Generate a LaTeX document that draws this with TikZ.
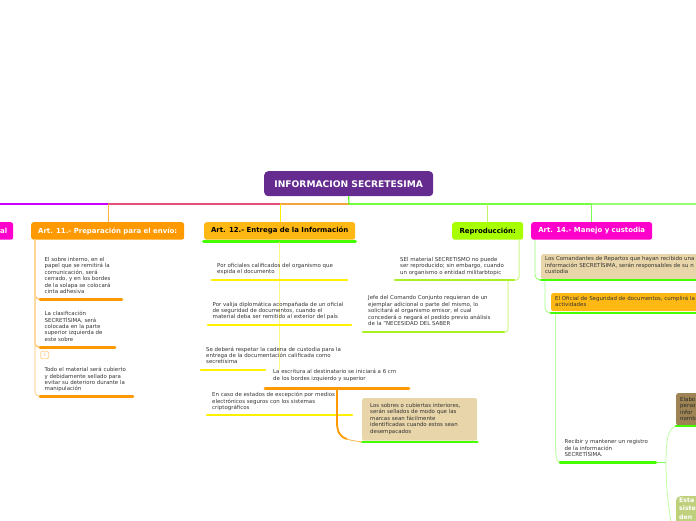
\documentclass[tikz,border=0pt]{standalone}
\usepackage{fontspec}
\setmainfont{DejaVu Sans}
\definecolor{rootc}{HTML}{652B8F}
\definecolor{orangec}{HTML}{FF9900}
\definecolor{ambar}{HTML}{FDB813}
\definecolor{lime}{HTML}{A8FF00}
\definecolor{magen}{HTML}{FF00CC}
\definecolor{sand}{HTML}{E8D5A9}
\definecolor{brownc}{HTML}{9E8454}
\definecolor{oliv}{HTML}{BFD07C}
\definecolor{gr}{HTML}{44FF00}
\definecolor{yel}{HTML}{FFF000}
\definecolor{limeline}{HTML}{AAF022}
\definecolor{ink}{HTML}{333333}
\definecolor{trunka}{HTML}{CC00FF}
\definecolor{trunkb}{HTML}{E2507A}
\definecolor{trunkc}{HTML}{F2A53C}
\tikzset{
  x=1pt,y=-1pt,
  head/.style={rounded corners=2.5pt,font=\fontsize{6.95}{8}\selectfont\bfseries,inner sep=0pt,anchor=north west},
  txt/.style={anchor=north west,align=left,inner sep=0pt,text=ink,font=\fontsize{5.45}{6.45}\selectfont},
  ul/.style={line width=2.8pt,line cap=round},
  stem/.style={line width=1.1pt,rounded corners=5pt},
  cb/.style={rounded corners=2pt,anchor=north west,inner sep=0pt},
}
\begin{document}
\begin{tikzpicture}
\useasboundingbox (0,0) rectangle (696,520);
\clip (0,0) rectangle (696,520);
% trunk coordinates
\coordinate (t0) at (0,204); \coordinate (t1) at (108,204); \coordinate (t2) at (280,204);
\coordinate (t3) at (349,204); \coordinate (t4) at (487,204); \coordinate (t5) at (591,204); \coordinate (t6) at (696,204);
\draw[line width=1.4pt,color=trunka] (t0)--(t1);
\draw[line width=1.4pt,color=trunkb] (t1)--(t2);
\draw[line width=1.4pt,color=trunkc] (t2)--(t3);
\draw[line width=1.4pt,color=gr!75!white] (t3)--(t5);
\draw[line width=1.2pt,color=gr!55!white] (t5)--(t6);
% root
\node[rounded corners=4pt,fill=rootc,text=white,font=\fontsize{9.15}{10}\selectfont\bfseries,minimum width=169pt,minimum height=25pt,inner sep=0pt,anchor=north west] (root) at (264,171) {INFORMACION SECRETESIMA};
\draw[line width=1.1pt,color=gr] (root.south) -- (t3);
% headers
\node[head,fill=magen,text=white,minimum width=30pt,minimum height=17.5pt,align=right,text width=18pt] (h0) at (-17,222) {al};
\node[head,fill=orangec,text=white,minimum width=153pt,minimum height=17.5pt,align=center] (h1) at (31,222) {Art. 11.- Preparación para el envío:};
\node[head,fill=ambar,text=black,minimum width=151pt,minimum height=17.5pt,align=center] (h2) at (204,222) {Art. 12.- Entrega de la Información};
\node[head,fill=lime,text=black,minimum width=71pt,minimum height=17.5pt,align=center] (h3) at (452,222) {Reproducción:};
\node[head,fill=magen,text=white,minimum width=121pt,minimum height=17.5pt,align=center] (h4) at (531,222) {Art. 14.- Manejo y custodia};
\draw[line width=.8pt,color=orangec!75!white] (t1) -- (h1.north -| t1);
\draw[line width=.8pt,color=yel] (t2) -- (h2.north -| t2);
\draw[line width=.9pt,color=limeline!70!white] (t4) -- (h3.north -| t4);
\draw[line width=.9pt,color=gr!70!white] (t5) -- (h4.north -| t5);
% Art 11
\coordinate (a1) at (40,299.5); \coordinate (a1e) at (122,299.5);
\coordinate (a2) at (40,347.5); \coordinate (a2e) at (115,347.5);
\coordinate (a3) at (40,396.5); \coordinate (a3e) at (133,396.5);
\coordinate (s1) at (35,239.5);
\draw[stem,color=orangec!60!white] (s1) |- (a1);
\draw[stem,color=orangec!60!white] (s1) |- (a2);
\draw[stem,color=orangec!35!white] (s1) |- (a3);
\draw[ul,color=orangec] (a1)--(a1e); \draw[ul,color=orangec] (a2)--(a2e); \draw[ul,color=orangec] (a3)--(a3e);
\node[txt] (t11a) at (44.5,257) {El sobre interno, en el\\papel que se remitirá la\\comunicación, será\\cerrado, y en los bordes\\de la solapa se colocará\\cinta adhesiva};
\node[txt] (t11b) at (44.5,311) {La clasificación\\SECRETÍSIMA, será\\colocada en la parte\\superior izquierda de\\este sobre};
\node[txt] (t11c) at (44.5,367) {Todo el material será cubierto\\y debidamente sellado para\\evitar su deterioro durante la\\manipulación};
\node[draw=orangec!45!white,line width=.8pt,rounded corners=2pt,minimum width=8pt,minimum height=7.5pt,inner sep=0pt,text=orangec!60!white,font=\fontsize{4.5}{5}\selectfont] (note) at (44.7,355) {1};
% Art 12
\draw[ul,color=gr,line width=3pt] (203.5,241) coordinate (b0) -- (355.5,241) coordinate (b0e);
\coordinate (b1) at (212,280); \coordinate (b1e) at (347,280);
\coordinate (b2) at (208,325); \coordinate (b2e) at (351,325);
\coordinate (b3) at (201,370); \coordinate (b3e) at (265,370);
\coordinate (b4) at (265,388.5); \coordinate (b4e) at (409,388.5);
\coordinate (b5) at (207,415); \coordinate (b5e) at (352,415);
\draw[line width=.8pt,color=yel!50!white] (279.5,242) -- (279.5,370);
\draw[ul,color=yel] (b1)--(b1e); \draw[ul,color=yel] (b2)--(b2e); \draw[ul,color=yel] (b3)--(b3e);
\draw[ul,color=orangec] (b4)--(b4e); \draw[ul,color=yel] (b5)--(b5e);
\node[txt] (t12a) at (217,263) {Por oficiales calificados del organismo que\\expida el documento};
\node[txt] (t12b) at (212.5,301.5) {Por valija diplomática acompañada de un oficial\\de seguridad de documentos, cuando el\\material deba ser remitido al exterior del país};
\node[txt] (t12c) at (206,346.5) {Se deberá respetar la cadena de custodia para la\\entrega de la documentación calificada como\\secretísima};
\node[txt] (t12d) at (273,369) {La escritura al destinatario se iniciará a 6 cm\\de los bordes izquierdo y superior};
\node[txt] (t12e) at (212,392) {En caso de estados de excepción por medios\\electrónicos seguros con los sistemas\\criptográficos};
\node[cb,fill=sand,minimum width=115pt,minimum height=42.5pt] (sobres) at (362,398) {};
\node[txt] (t12f) at (370,403) {Los sobres o cubiertas interiores,\\serán sellados de modo que las\\marcas sean fácilmente\\identificadas cuando estos sean\\desempacados};
\draw[ul,color=gr] (sobres.south west)++(0,1) coordinate (b6) -- (sobres.south east |- b6) coordinate (b6e);
\draw[line width=1.8pt,color=orangec] (337,389) -- (337,422) .. controls (337,432) and (340,437) .. (347,439);
\draw[line width=.8pt,color=orangec!70!white] (347,439) .. controls (352,441) and (356,441) .. (b6);
% Reproduccion
\coordinate (c1) at (395,280); \coordinate (c1e) at (514,280);
\coordinate (c2) at (363,332); \coordinate (c2e) at (504,332);
\draw[stem,color=limeline!55!white,line width=1pt,rounded corners=3pt] (519,240) |- (c1e);
\draw[stem,color=limeline!55!white,line width=1pt,rounded corners=3pt] (508,280) |- (c2e);
\draw[ul,color=limeline] (c1)--(c1e); \draw[ul,color=limeline] (c2)--(c2e);
\node[txt] (t13a) at (400,257) {SEl material SECRETISMO no puede\\ser reproducido; sin embargo, cuando\\un organismo o entidad militarbtopic};
\node[txt] (t13b) at (368,295.5) {Jefe del Comando Conjunto requieran de un\\ejemplar adicional o parte del mismo, lo\\solicitará al organismo emisor, el cual\\concederá o negará el pedido previo análisis\\de la "NECESIDAD DEL SABER};
% Art 14
\node[cb,fill=sand,minimum width=160pt,minimum height=25pt] (d1box) at (541,254) {};
\node[cb,fill=ambar,minimum width=150pt,minimum height=18pt] (d2box) at (551,293) {};
\coordinate (d1) at (541,280); \coordinate (d1e) at (696,280);
\coordinate (d2) at (551,313); \coordinate (d2e) at (696,313);
\coordinate (d3) at (560,462.5); \coordinate (d3e) at (656,462.5);
\draw[stem,color=gr!55!white,line width=.9pt] (535,240) |- (d1);
\draw[stem,color=gr!45!white,line width=.9pt] (545,281) |- (d2);
\draw[color=gr!35!white,line width=.9pt] (555.5,314) -- (555.5,440) .. controls (555.5,455) and (556,462) .. (d3);
\draw[ul,color=gr] (d1)--(d1e); \draw[ul,color=gr] (d2)--(d2e); \draw[ul,color=gr] (d3)--(d3e);
\node[txt] (t14a) at (545,256.5) {Los Comandantes de Repartos que hayan recibido una\\información SECRETÍSIMA, serán responsables de su n\\custodia};
\node[txt] (t14b) at (555,295.5) {El Oficial de Seguridad de documentos, cumplirá la\\actividades};
\node[txt] (t14c) at (564.5,439.5) {Recibir y mantener un registro\\de la información\\SECRETÍSIMA.};
\node[cb,fill=brownc,minimum width=30pt,minimum height=32pt] (e1) at (676,393) {};
\node[cb,fill=oliv,minimum width=30pt,minimum height=40pt,rounded corners=4pt] (e2) at (676,496) {};
\node[txt,text=black!85] (t14d) at (680,397) {Elabo\\perso\\infor\\nomb};
\node[txt,text=white,font=\fontsize{6.2}{8.2}\selectfont\bfseries] (t14e) at (679,498) {Esta\\siste\\den};
\coordinate (e1a) at (676,426); \coordinate (e1e) at (696,426);
\coordinate (ej) at (666,462.5);
\draw[line width=.8pt,color=gr!70!white] (d3e) -- (ej);
\draw[line width=.8pt,color=gr!35!white] (ej) .. controls (666,440) and (668,428) .. (e1a);
\draw[line width=.8pt,color=gr!35!white] (ej) .. controls (666,485) and (668,505) .. (671,521);
\draw[ul,color=gr] (e1a)--(e1e);
\end{tikzpicture}
\end{document}
